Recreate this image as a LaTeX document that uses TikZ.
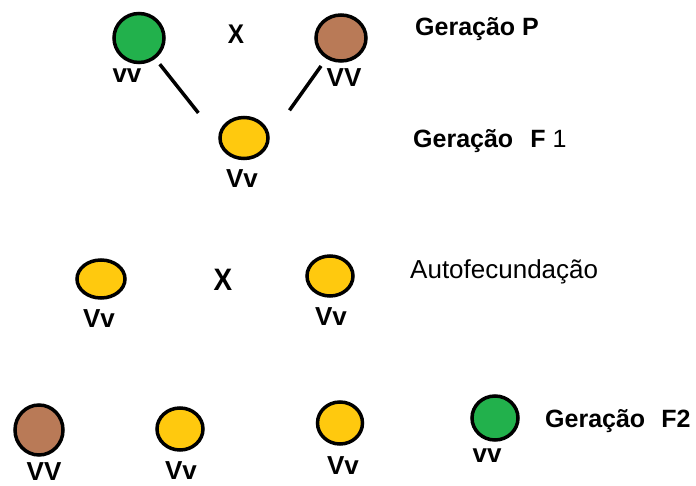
\documentclass[tikz,border=0pt]{standalone}
\usepackage{fontspec}
\setmainfont{Liberation Sans}
\usetikzlibrary{shapes.geometric}
\definecolor{paintgreen}{RGB}{34,177,76}
\definecolor{paintbrown}{RGB}{185,122,87}
\definecolor{paintgold}{RGB}{255,201,14}

\begin{document}
\begin{tikzpicture}[x=1pt,y=-1pt,
  plant/.style={ellipse, draw=black, line width=3.5pt, inner sep=0pt},
  green/.style={plant, fill=paintgreen},
  brown/.style={plant, fill=paintbrown},
  gold/.style={plant, fill=paintgold},
  geno/.style={font=\fontsize{26}{26}\selectfont\bfseries, inner sep=0pt},
  crossmark/.style={font=\fontsize{#1}{#1}\selectfont\bfseries, inner sep=0pt},
  gen/.style={font=\fontsize{25}{25}\selectfont, anchor=base west, inner sep=0pt},
  link/.style={line width=3.5pt}]
  \useasboundingbox[fill=white] (0,0) rectangle (696,486);

  % parental generation
  \node[green, minimum width=50pt, minimum height=49pt] (pg) at (139,38) {};
  \node[brown, minimum width=50pt, minimum height=46pt] (pb) at (341,38) {};
  \node[geno] (pgl) at (127,76) {vv};
  \node[geno] (pbl) at (344,78) {VV};
  \node[crossmark=27] (px) at (236,34) {\scalebox{0.9}[1]{X}};
  \node[gen] (lp) at (415,36) {\bfseries Geração P};

  % first filial generation
  \node[gold, minimum width=48pt, minimum height=41pt] (f1) at (244,138) {};
  \node[geno] (f1l) at (242,179) {Vv};
  \node[gen] (lf1) at (413,148) {\bfseries Geração\hspace{17pt}F\mdseries\hspace{7pt}1};

  \draw[link, shorten <=7pt, shorten >=32pt] (pg) -- (f1.west);
  \draw[link, shorten <=9pt, shorten >=34pt] (pb) -- (f1.east);

  % selfing of F1
  \node[gold, minimum width=48pt, minimum height=38pt] (sa) at (101,279) {};
  \node[gold, minimum width=46pt, minimum height=40pt] (sb) at (330,276) {};
  \node[geno] (sal) at (99,319) {Vv};
  \node[geno] (sbl) at (331,317) {Vv};
  \node[crossmark=31] (sx) at (223,280) {\scalebox{0.9}[1]{X}};
  \node[gen, font=\fontsize{26}{26}\selectfont] (la) at (410,279) {Autofecundação};

  % second filial generation
  \node[brown, minimum width=48pt, minimum height=50pt] (ga) at (39,430) {};
  \node[gold, minimum width=46pt, minimum height=42pt] (gb) at (180,429) {};
  \node[gold, minimum width=45pt, minimum height=42pt] (gc) at (340,423) {};
  \node[green, minimum width=46pt, minimum height=44pt] (gd) at (495,418) {};
  \node[geno] (gal) at (44,472) {VV};
  \node[geno] (gbl) at (181,471) {Vv};
  \node[geno] (gcl) at (343,466) {Vv};
  \node[geno] (gdl) at (487,456) {vv};
  \node[gen] (lf2) at (545,427) {\bfseries Geração\hspace{16pt}F2};
\end{tikzpicture}
\end{document}
